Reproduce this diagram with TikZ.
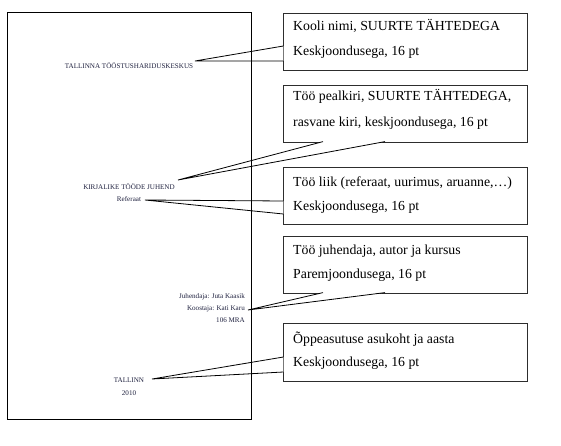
\documentclass[tikz,border=0pt]{standalone}
\usepackage{fontspec}
\setmainfont{Liberation Serif}
\definecolor{pagetext}{RGB}{30,32,62}
\definecolor{boxline}{RGB}{45,45,45}
\begin{document}
\begin{tikzpicture}[x=1pt,y=-1pt,
  pagetxt/.style={font=\fontsize{7.1}{8}\selectfont, text=pagetext, inner sep=0pt},
  calltxt/.style={font=\fontsize{13.8}{16}\selectfont, anchor=base west, inner sep=0pt},
  callbox/.style={draw=boxline, line width=0.8pt, fill=white, minimum width=244pt, anchor=north west, inner sep=0pt},
  pointer/.style={draw=black, line width=0.8pt, line join=miter}]
\useasboundingbox (0,0) rectangle (561,446);
% page texts
\node[pagetxt, anchor=base] (school) at (129,68.5) {TALLINNA TÖÖSTUSHARIDUSKESKUS};
\node[pagetxt, anchor=base] (title) at (129,189.5) {KIRJALIKE TÖÖDE JUHEND};
\node[pagetxt, anchor=base] (kind) at (129,201.5) {Referaat};
\node[pagetxt, anchor=base east] (sup) at (245,298.5) {Juhendaja: Juta Kaasik};
\node[pagetxt, anchor=base east] (auth) at (245,310.5) {Koostaja: Kati Karu};
\node[pagetxt, anchor=base east] (grp) at (245,322.5) {106 MRA};
\node[pagetxt, anchor=base] (city) at (129,382.5) {TALLINN};
\node[pagetxt, anchor=base] (year) at (129,395.5) {2010};
% callout boxes
\node[callbox, minimum height=57pt] (b1) at (283,13) {};
\node[callbox, minimum height=57pt] (b2) at (283,85) {};
\node[callbox, minimum height=57pt] (b3) at (283,167) {};
\node[callbox, minimum height=57pt] (b4) at (283,236) {};
\node[callbox, minimum height=58pt] (b5) at (283,323) {};
% callout texts
\node[calltxt] (b1a) at (293,31) {Kooli nimi, SUURTE TÄHTEDEGA};
\node[calltxt] (b1b) at (293,56) {Keskjoondusega, 16 pt};
\node[calltxt] (b2a) at (293,101) {Töö pealkiri, SUURTE TÄHTEDEGA,};
\node[calltxt] (b2b) at (293,127) {rasvane kiri, keskjoondusega, 16 pt};
\node[calltxt] (b3a) at (293,186) {Töö liik (referaat, uurimus, aruanne,…)};
\node[calltxt] (b3b) at (293,210) {Keskjoondusega, 16 pt};
\node[calltxt] (b4a) at (293,254) {Töö juhendaja, autor ja kursus};
\node[calltxt] (b4b) at (293,278) {Paremjoondusega, 16 pt};
\node[calltxt] (b5a) at (293,343) {Õppeasutuse asukoht ja aasta};
\node[calltxt] (b5b) at (293,366) {Keskjoondusega, 16 pt};
% pointer coordinates
\coordinate (t1) at (195,61);  \coordinate (p1a) at (283.4,46);  \coordinate (p1b) at (283.4,61);
\coordinate (t2) at (178,180); \coordinate (p2a) at (323,141.6); \coordinate (p2b) at (385,141.6);
\coordinate (t3) at (145,200); \coordinate (p3a) at (283.4,201); \coordinate (p3b) at (283.4,214);
\coordinate (t4) at (248,310); \coordinate (p4a) at (323,292.6); \coordinate (p4b) at (385,292.6);
\coordinate (t5) at (152,379); \coordinate (p5a) at (283.4,357); \coordinate (p5b) at (283.4,372);
% pointer fills (hide box edges)
\foreach \i in {1,...,5} {\fill[white] (t\i) -- (p\i a) -- (p\i b) -- cycle;}
% page
\draw[black, line width=0.9pt] (7,12) rectangle (251,419);
% pointer lines
\foreach \i in {1,...,5} {\draw[pointer] (p\i a) -- (t\i) -- (p\i b);}
\end{tikzpicture}
\end{document}
